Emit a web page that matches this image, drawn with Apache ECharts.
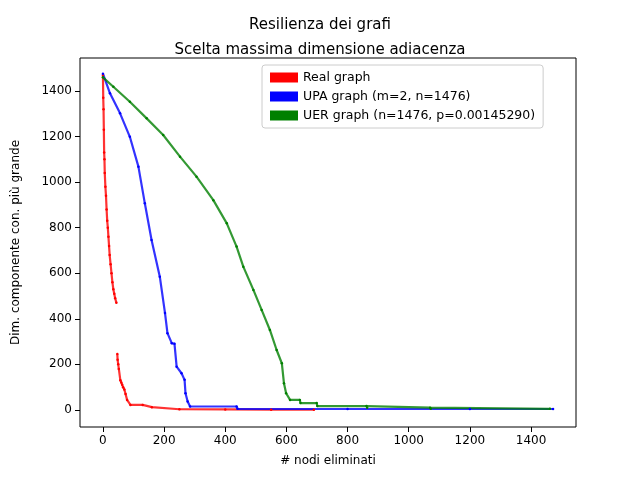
<!DOCTYPE html>
<html><head><meta charset="utf-8">
<script src="https://cdn.jsdelivr.net/npm/echarts@6/dist/echarts.min.js"></script>
<style>html,body{margin:0;background:#fff}#c{width:640px;height:480px}</style>
</head><body><div id="c"></div>
<script>
const realX = [0,1,2,3,4,5,6,8,10,12,14,16,18,20,22,25,28,31,34,37,40,44,null,47,48,50,52,57,60,63,66,70,74,79,90,130,160,250,400,550,690];
const realY = [1470,1370,1320,1230,1130,1100,1040,980,940,880,830,800,760,720,680,640,600,560,530,510,490,470,null,245,220,200,180,130,120,110,100,90,70,44,22,22,12,3,2,1,1];
const upaX = [0,23,56,88,116,137,159,186,203,211,225,234,241,257,267,270,277,285,437,440,800,1200,1472];
const upaY = [1476,1390,1302,1199,1068,907,746,585,425,337,293,290,190,161,132,73,37,15,15,5,4,4,4];
const uerX = [0,34,88,143,197,252,306,361,405,437,459,492,519,546,568,585,592,599,612,644,646,699,701,862,864,1070,1072,1462];
const uerY = [1460,1419,1353,1280,1207,1112,1024,921,819,717,629,527,439,351,263,205,117,73,44,44,30,30,17,17,10,10,5,5];
const names = ['Real graph','UPA graph (m=2, n=1476)','UER graph (n=1476, p=0.00145290)'];
const xTicks = [0,200,400,600,800,1000,1200,1400];
const yTicks = [0,200,400,600,800,1000,1200,1400];
function pts(xs,ys){return xs.map((x,i)=>x===null?'-':[x,ys[i]]);}
const ch = echarts.init(document.getElementById('c'));
function ser(n,xs,ys,col){return {name:n,type:'line',data:pts(xs,ys),showSymbol:true,symbol:'circle',symbolSize:2.5,connectNulls:false,
  itemStyle:{color:col},lineStyle:{color:col,width:2.2,opacity:0.8},animation:false};}
const lab = {fontFamily:'DejaVu Sans',fontSize:12,color:'#000',formatter:v=>String(v)};
ch.setOption({
  animation:false,
  title:{text:'Resilienza dei grafi\nScelta massima dimensione adiacenza',left:'center',top:8,
    textStyle:{fontFamily:'DejaVu Sans',fontSize:15,fontWeight:'normal',color:'#000',lineHeight:25}},
  legend:{orient:'vertical',left:262,top:65,padding:[6,8],itemGap:6,itemWidth:28,itemHeight:10,icon:'rect',
    borderColor:'#ccc',borderWidth:1,borderRadius:3,textStyle:{fontFamily:'DejaVu Sans',fontSize:12.5,color:'#000'},
    data:names},
  grid:{left:80,right:64,top:58,bottom:53,show:true,borderColor:'#000',borderWidth:1},
  xAxis:{type:'value',min:-75,max:1547,name:'# nodi eliminati',nameLocation:'middle',nameGap:28,
    nameTextStyle:{fontFamily:'DejaVu Sans',fontSize:12,color:'#000'},
    splitLine:{show:false},axisLine:{show:false,onZero:false},
    axisTick:{show:true,lineStyle:{color:'#000'},customValues:xTicks},
    axisLabel:Object.assign({customValues:xTicks},lab)},
  yAxis:{type:'value',min:-75,max:1545,name:'Dim. componente con. più grande',nameLocation:'middle',nameGap:58,
    nameTextStyle:{fontFamily:'DejaVu Sans',fontSize:12,color:'#000'},
    splitLine:{show:false},axisLine:{show:false,onZero:false},
    axisTick:{show:true,lineStyle:{color:'#000'},customValues:yTicks},
    axisLabel:Object.assign({customValues:yTicks},lab)},
  series:[ser(names[0],realX,realY,'#ff0000'),ser(names[1],upaX,upaY,'#0000ff'),ser(names[2],uerX,uerY,'#008000')]
});
</script></body></html>
